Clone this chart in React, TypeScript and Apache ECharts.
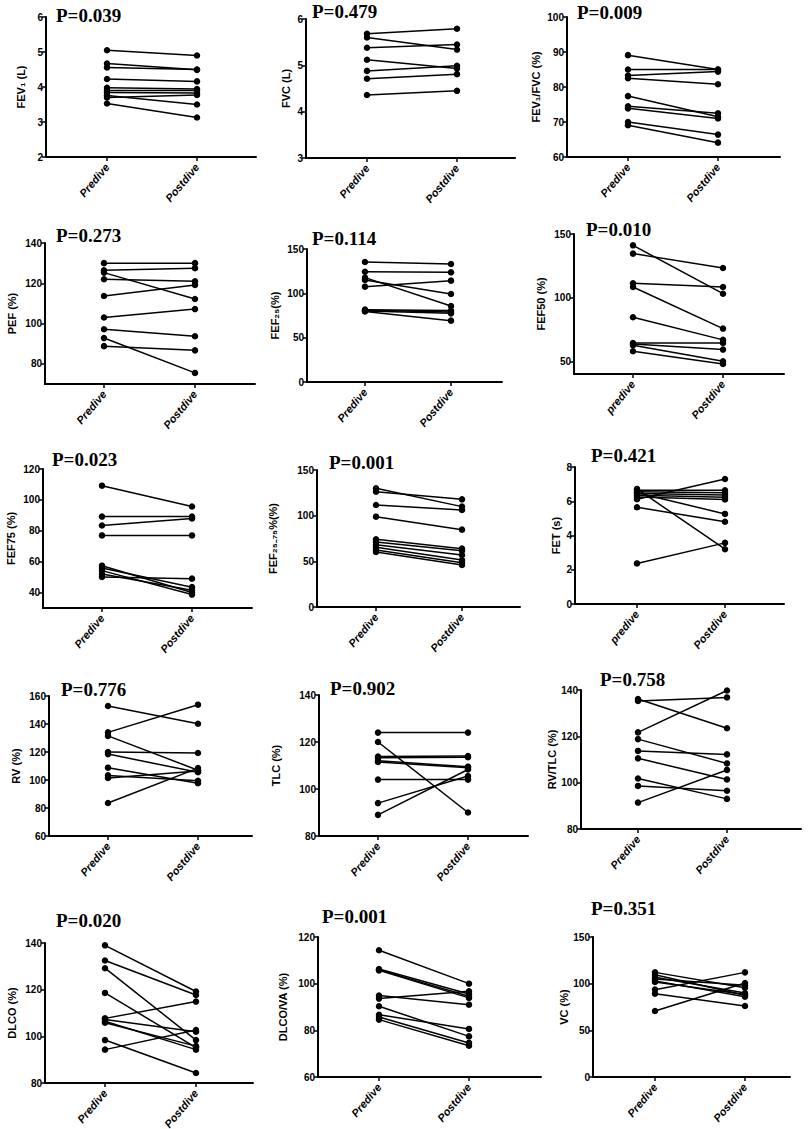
import React, { useEffect, useRef } from "react";
import * as echarts from "echarts";

// ---------- DATA ----------
const fev1Pre = [5.05, 4.67, 4.56, 4.23, 3.98, 3.9, 3.84, 3.76, 3.7, 3.53];
const fev1Post = [4.9, 4.49, 4.5, 4.16, 3.94, 3.9, 3.83, 3.5, 3.77, 3.13];
const fvcPre = [5.68, 5.6, 5.38, 5.12, 4.88, 4.71, 4.36];
const fvcPost = [5.79, 5.34, 5.45, 4.93, 4.99, 4.81, 4.45];
const ratioPre = [89.1, 85.0, 83.3, 82.5, 77.4, 74.5, 73.9, 70.0, 69.1];
const ratioPost = [85.0, 85.0, 84.4, 80.8, 71.5, 72.5, 71.0, 66.4, 64.1];
const pefPre = [130, 126.5, 125.3, 122, 113.7, 103, 97.2, 92.8, 88.8];
const pefPost = [130, 127.5, 112.2, 121, 119.2, 107.2, 93.7, 75.5, 86.7];
const fef25Pre = [135.3, 124.4, 117.7, 115.0, 107.5, 81.6, 81.0, 80.2, 79.5];
const fef25Post = [133.1, 123.7, 85.7, 99.2, 114.3, 80.5, 78.9, 77.4, 69.2];
const fef50Pre = [141.1, 134.6, 111.3, 108.4, 84.6, 64.4, 63.6, 62.6, 57.9];
const fef50Post = [103.1, 123.3, 108.4, 75.7, 66.8, 64.4, 59.2, 50, 47.9];
const fef75Pre = [109.2, 89.2, 83.4, 77.0, 57.4, 55.9, 54.2, 52.0, 50.1];
const fef75Post = [95.7, 89.2, 88.0, 77.0, 40.0, 43.5, 38.7, 41.5, 49.0];
const fef2575Pre = [129.9, 126.3, 111.7, 98.9, 74.1, 71.2, 68.2, 65.3, 62.4, 60.2];
const fef2575Post = [109.9, 117.9, 106.2, 84.7, 63.9, 61.7, 56.9, 51.5, 48.5, 46.0];
const fetPre = [6.12, 6.72, 6.64, 6.55, 6.45, 6.35, 6.25, 6.5, 5.65, 2.37];
const fetPost = [7.3, 3.2, 6.64, 6.5, 6.37, 6.23, 6.1, 5.26, 4.8, 3.57];
const rvPre = [152.9, 134, 131.5, 120, 118.5, 108.8, 103.3, 101.5, 83.6];
const rvPost = [140.2, 153.8, 107.0, 119.3, 105.5, 97.7, 99.5, 106.5, 108.5];
const tlcPre = [124, 120, 113.8, 113.3, 112, 111.5, 104, 94, 89];
const tlcPost = [124, 90, 114, 113.5, 109.5, 109, 104, 105.5, 108.3];
const rvtlcPre = [136.1, 135.3, 121.7, 118.8, 113.7, 110.5, 101.8, 98.6, 91.4];
const rvtlcPost = [123.5, 136.8, 139.8, 108.3, 112.2, 101.4, 93.0, 96.5, 105.5];
const dlcoPre = [139, 132.5, 129.2, 118.6, 107.7, 107.2, 106.5, 105.8, 98.4, 94.3];
const dlcoPost = [119.2, 117.7, 98.4, 95.2, 114.9, 102, 94.3, 95.8, 84.3, 102.7];
const dlcovaPre = [114.3, 106.3, 105.9, 105.7, 94.9, 93.6, 90.3, 86.7, 85.7, 84.6];
const dlcovaPost = [100, 95.6, 94.6, 93.9, 91.0, 96.7, 77.4, 80.6, 74.6, 73.4];
const vcPre = [112.1, 109.6, 106.8, 105, 103, 101.8, 93.6, 89.3, 70.7];
const vcPost = [95.7, 87.5, 90, 98.2, 86, 88.5, 112.1, 76.1, 100.7];

const preData = [fev1Pre, fvcPre, ratioPre, pefPre, fef25Pre, fef50Pre, fef75Pre, fef2575Pre, fetPre, rvPre, tlcPre, rvtlcPre, dlcoPre, dlcovaPre, vcPre];
const postData = [fev1Post, fvcPost, ratioPost, pefPost, fef25Post, fef50Post, fef75Post, fef2575Post, fetPost, rvPost, tlcPost, rvtlcPost, dlcoPost, dlcovaPost, vcPost];

const axisNames = ["FEV₁ (L)", "FVC (L)", "FEV₁/FVC (%)", "PEF (%)", "FEF₂₅(%)", "FEF50 (%)", "FEF75 (%)", "FEF₂₅₋₇₅%(%)", "FET (s)", "RV (%)", "TLC (%)", "RV/TLC (%)", "DLCO (%)", "DLCO/VA (%)", "VC (%)"];
const pValues = ["P=0.039", "P=0.479", "P=0.009", "P=0.273", "P=0.114", "P=0.010", "P=0.023", "P=0.001", "P=0.421", "P=0.776", "P=0.902", "P=0.758", "P=0.020", "P=0.001", "P=0.351"];
const catA = ["Predive", "Postdive"];
const catB = ["predive", "Postdive"];
const categories = [catA, catA, catA, catA, catA, catB, catA, catA, catB, catA, catA, catA, catA, catA, catA];
const yTicks = [
  [2, 3, 4, 5, 6], [3, 4, 5, 6], [60, 70, 80, 90, 100],
  [80, 100, 120, 140], [0, 50, 100, 150], [50, 100, 150],
  [40, 60, 80, 100, 120], [0, 50, 100, 150], [0, 2, 4, 6, 8],
  [60, 80, 100, 120, 140, 160], [80, 100, 120, 140], [80, 100, 120, 140],
  [80, 100, 120, 140], [60, 80, 100, 120], [0, 50, 100, 150],
];
const yMin = [2, 3, 60, 70, 0, 40, 30, 0, 0, 60, 80, 80, 80, 60, 0];
const yMax = [6, 6, 100, 140, 150, 150, 120, 150, 8, 160, 140, 140, 140, 120, 150];

// ---------- LAYOUT (pixels) ----------
// left axis x, right end x, top y, bottom y, predive x, postdive x, nameGap, P text x, P text y
const layout = [
  { l: 46, r: 256, t: 17, b: 157, a: 107, c: 197, g: 20, px: 56, py: 15 },
  { l: 306, r: 515, t: 19, b: 158, a: 367, c: 457, g: 14.5, px: 312, py: 11 },
  { l: 567, r: 780, t: 17, b: 157, a: 628, c: 718, g: 26, px: 577, py: 12 },
  { l: 45, r: 255, t: 243, b: 384, a: 104, c: 195, g: 28, px: 56, py: 235 },
  { l: 307, r: 502, t: 249, b: 382, a: 365, c: 451, g: 27, px: 312, py: 238 },
  { l: 574, r: 784, t: 234, b: 374, a: 633, c: 723, g: 27.5, px: 586, py: 229 },
  { l: 43, r: 252, t: 469, b: 608, a: 102, c: 192, g: 27, px: 52, py: 459 },
  { l: 317, r: 520, t: 470, b: 607, a: 376, c: 462, g: 38.5, px: 329, py: 462 },
  { l: 575, r: 784, t: 467, b: 604, a: 637, c: 725, g: 13.5, px: 591, py: 455 },
  { l: 49, r: 252, t: 696, b: 836, a: 108, c: 198, g: 28, px: 61, py: 689 },
  { l: 319, r: 528, t: 695, b: 836, a: 378, c: 468, g: 38, px: 330, py: 688 },
  { l: 581, r: 801, t: 690, b: 829, a: 638, c: 727, g: 12.5, px: 600, py: 679 },
  { l: 45, r: 253, t: 943, b: 1083, a: 105, c: 196, g: 28, px: 56, py: 920 },
  { l: 318, r: 541, t: 937, b: 1077, a: 379, c: 469, g: 29.5, px: 322, py: 916 },
  { l: 593, r: 790, t: 937, b: 1077, a: 655, c: 745, g: 23.5, px: 591, py: 908 },
];

const SANS = "'Liberation Sans', Arial, sans-serif";
const SERIF = "'Liberation Serif', 'Times New Roman', serif";

function buildOption() {
  const grid: any[] = [];
  const xAxis: any[] = [];
  const yAxis: any[] = [];
  const series: any[] = [];
  const graphic: any[] = [];
  layout.forEach((L, i) => {
    grid.push({ left: L.l, top: L.t, width: L.r - L.l, height: L.b - L.t, containLabel: false, outerBoundsMode: "none" });
    const s = L.c - L.a;
    const xmin = -(L.a - L.l) / s;
    const xmax = xmin + (L.r - L.l) / s;
    const cats = categories[i];
    xAxis.push({
      gridIndex: i, type: "value", min: xmin, max: xmax,
      axisLine: { show: true, onZero: false, lineStyle: { color: "#000", width: 2 } },
      axisTick: { show: true, customValues: [0, 1], length: 4, lineStyle: { color: "#000", width: 1.5 } },
      axisLabel: {
        show: true, customValues: [0, 1], formatter: (v: number) => cats[Math.round(v)] ?? "",
        rotate: 50, fontStyle: "italic", fontWeight: "bold", fontSize: 11, color: "#000", margin: 8, fontFamily: SANS,
      },
      splitLine: { show: false },
    });
    yAxis.push({
      gridIndex: i, type: "value", min: yMin[i], max: yMax[i],
      axisLine: { show: true, onZero: false, lineStyle: { color: "#000", width: 2 } },
      axisTick: { show: true, customValues: yTicks[i], length: 4, lineStyle: { color: "#000", width: 1.5 } },
      axisLabel: { show: true, customValues: yTicks[i], fontSize: 10, fontWeight: "bold", color: "#000", margin: 3, fontFamily: SANS },
      splitLine: { show: false },
      name: axisNames[i], nameLocation: "middle", nameGap: L.g, nameRotate: 90,
      nameTextStyle: { fontSize: 11, fontWeight: "bold", color: "#000", fontFamily: SANS },
    });
    const pre = preData[i];
    const post = postData[i];
    pre.forEach((v, j) => {
      series.push({
        type: "line", xAxisIndex: i, yAxisIndex: i, silent: true,
        data: [[0, v], [1, post[j]]],
        symbol: "circle", symbolSize: 6.5, showSymbol: true,
        itemStyle: { color: "#000" }, lineStyle: { color: "#000", width: 1.5 },
      });
    });
    graphic.push({
      type: "text", x: L.px, y: L.py,
      style: { text: pValues[i], font: `bold 19px ${SERIF}`, fill: "#000", verticalAlign: "middle", textVerticalAlign: "middle" },
    });
  });
  return { animation: false, backgroundColor: "#fff", grid, xAxis, yAxis, series, graphic };
}

export default function App() {
  const ref = useRef<HTMLDivElement>(null);
  useEffect(() => {
    if (!ref.current) return;
    const chart = echarts.init(ref.current, undefined, { renderer: "svg" });
    chart.setOption(buildOption());
    return () => chart.dispose();
  }, []);
  return <div ref={ref} style={{ position: "absolute", left: 0, top: 0, width: 809, height: 1129, background: "#fff" }} />;
}
